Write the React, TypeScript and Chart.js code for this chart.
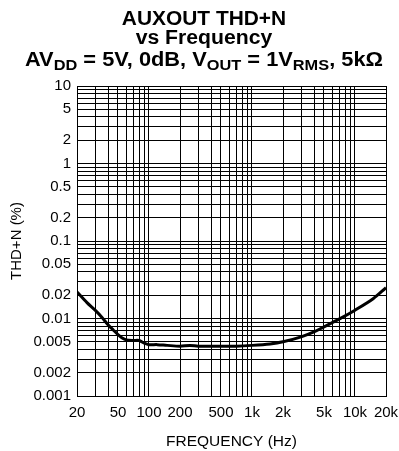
import React, { useEffect, useRef } from "react";
import { Chart, registerables } from "chart.js";

Chart.register(...registerables);

const freqHz = [20, 25, 30, 35, 40, 45, 50, 55, 60, 70, 80, 90, 100, 120, 150, 200, 250, 300, 400, 500, 700, 1000, 1500, 2000, 3000, 4000, 5000, 7000, 10000, 15000, 20000];
const thdPct = [0.022, 0.016, 0.0128, 0.0103, 0.0083, 0.0071, 0.0062, 0.0056, 0.0053, 0.0052, 0.0052, 0.0048, 0.0046, 0.0046, 0.0045, 0.0044, 0.0045, 0.0044, 0.0044, 0.0044, 0.0044, 0.0045, 0.0047, 0.005, 0.0058, 0.0067, 0.0078, 0.0098, 0.0128, 0.018, 0.025];

const xGridValues = [20, 30, 40, 50, 60, 70, 80, 90, 100, 200, 300, 400, 500, 600, 700, 800, 900, 1000, 2000, 3000, 4000, 5000, 6000, 7000, 8000, 9000, 10000, 20000];
const xLabelValues = [20, 50, 100, 200, 500, 1000, 2000, 5000, 10000, 20000];
const xLabelTexts = ["20", "50", "100", "200", "500", "1k", "2k", "5k", "10k", "20k"];

const yGridValues = [0.001, 0.002, 0.003, 0.004, 0.005, 0.006, 0.007, 0.008, 0.009, 0.01, 0.02, 0.03, 0.04, 0.05, 0.06, 0.07, 0.08, 0.09, 0.1, 0.2, 0.3, 0.4, 0.5, 0.6, 0.7, 0.8, 0.9, 1, 2, 3, 4, 5, 6, 7, 8, 9, 10];
const yLabelValues = [0.001, 0.002, 0.005, 0.01, 0.02, 0.05, 0.1, 0.2, 0.5, 1, 2, 5, 10];
const yLabelTexts = ["0.001", "0.002", "0.005", "0.01", "0.02", "0.05", "0.1", "0.2", "0.5", "1", "2", "5", "10"];

const FONT = "Arial, 'Liberation Sans', Helvetica, sans-serif";

function near(a: number, b: number) {
  return Math.abs(a - b) / b < 1e-6;
}

export default function App() {
  const ref = useRef<HTMLCanvasElement | null>(null);
  useEffect(() => {
    if (!ref.current) return;
    const data = freqHz.map((f, i) => ({ x: f, y: thdPct[i] }));
    const chart = new Chart(ref.current, {
      type: "line",
      data: {
        datasets: [
          {
            data,
            borderColor: "#000",
            borderWidth: 3,
            pointRadius: 0,
            tension: 0.3,
            fill: false,
          },
        ],
      },
      options: {
        animation: false,
        responsive: false,
        maintainAspectRatio: false,
        layout: { padding: { top: 86, right: 13, left: 0, bottom: 0 } },
        plugins: { legend: { display: false }, tooltip: { enabled: false }, title: { display: false } },
        scales: {
          x: {
            type: "logarithmic",
            min: 20,
            max: 20000,
            afterBuildTicks: (s: any) => {
              s.ticks = xGridValues.map((v) => ({ value: v }));
            },
            afterFit: (s: any) => {
              s.height = 55;
              s.paddingLeft = 0;
              s.paddingRight = 0;
            },
            ticks: {
              autoSkip: false,
              maxRotation: 0,
              minRotation: 0,
              padding: 8,
              color: "#000",
              font: { family: FONT, size: 15 },
              callback: (v: any) => {
                const i = xLabelValues.findIndex((l) => near(Number(v), l));
                return i >= 0 ? xLabelTexts[i] : "";
              },
            },
            grid: { color: "#000", lineWidth: 1, drawTicks: false },
            border: { color: "#000", width: 1 },
            title: {
              display: true,
              text: "FREQUENCY (Hz)",
              color: "#000",
              font: { family: FONT, size: 15.5 },
              padding: { top: 0, bottom: 0 },
            },
          },
          y: {
            type: "logarithmic",
            min: 0.001,
            max: 10,
            afterBuildTicks: (s: any) => {
              s.ticks = yGridValues.map((v) => ({ value: v }));
            },
            afterFit: (s: any) => {
              s.width = 77;
              s.paddingTop = 0;
              s.paddingBottom = 0;
            },
            ticks: {
              autoSkip: false,
              padding: 6,
              color: "#000",
              font: { family: FONT, size: 15 },
              callback: (v: any) => {
                const i = yLabelValues.findIndex((l) => near(Number(v), l));
                return i >= 0 ? yLabelTexts[i] : "";
              },
            },
            grid: { color: "#000", lineWidth: 1, drawTicks: false },
            border: { color: "#000", width: 1 },
            title: {
              display: true,
              text: "THD+N (%)",
              color: "#000",
              font: { family: FONT, size: 15 },
              padding: { top: 8, bottom: 0 },
            },
          },
        },
      },
    });
    return () => chart.destroy();
  }, []);

  const lineStyle = (sx: number): React.CSSProperties => ({
    position: "absolute",
    left: 0,
    width: 408,
    textAlign: "center",
    fontFamily: FONT,
    fontWeight: "bold",
    fontSize: 20,
    lineHeight: "20px",
    color: "#000",
    whiteSpace: "nowrap",
    transform: `scaleX(${sx})`,
    transformOrigin: "204px 0",
  });
  const sub: React.CSSProperties = { fontSize: 15, position: "relative", top: 4 };

  return (
    <div style={{ position: "fixed", left: 0, top: 0, width: 399, height: 451, background: "#fff" }}>
      <canvas ref={ref} width={399} height={451} style={{ position: "absolute", left: 0, top: 0 }} />
      <div style={{ ...lineStyle(1.045), top: 8 }}>AUXOUT THD+N</div>
      <div style={{ ...lineStyle(1.06), top: 27 }}>vs Frequency</div>
      <div style={{ ...lineStyle(1.09), top: 49 }}>
        AV<span style={sub}>DD</span> = 5V, 0dB, V<span style={sub}>OUT</span> = 1V<span style={sub}>RMS</span>, 5kΩ
      </div>
    </div>
  );
}
